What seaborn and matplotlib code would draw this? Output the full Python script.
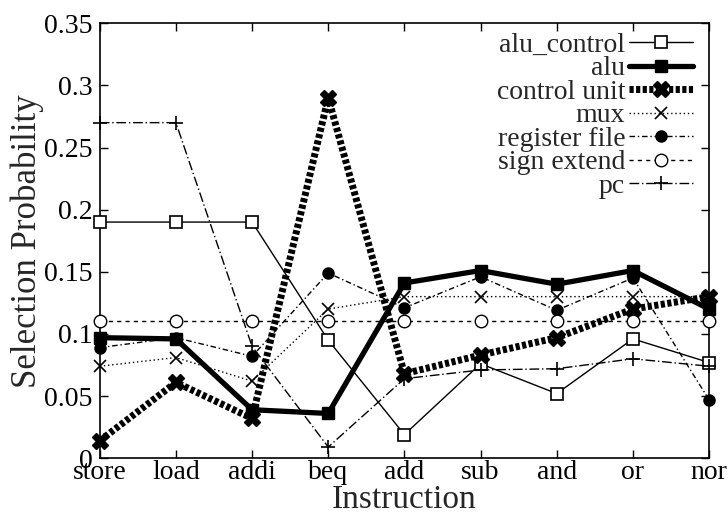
import matplotlib
matplotlib.use("Agg")
import matplotlib.pyplot as plt
import seaborn as sns
import pandas as pd
import numpy as np

instructions = ["store", "load", "addi", "beq", "add", "sub", "and", "or", "nor"]
alu_control = [0.19, 0.19, 0.19, 0.095, 0.019, 0.076, 0.052, 0.096, 0.077]
alu = [0.097, 0.096, 0.039, 0.036, 0.141, 0.151, 0.140, 0.151, 0.120]
control_unit = [0.014, 0.061, 0.032, 0.290, 0.068, 0.083, 0.097, 0.120, 0.130]
mux = [0.074, 0.081, 0.062, 0.120, 0.130, 0.130, 0.130, 0.130, 0.130]
register_file = [0.089, 0.097, 0.082, 0.149, 0.121, 0.146, 0.119, 0.145, 0.047]
sign_extend = [0.11, 0.11, 0.11, 0.11, 0.11, 0.11, 0.11, 0.11, 0.11]
pc = [0.27, 0.27, 0.090, 0.009, 0.064, 0.071, 0.072, 0.080, 0.074]

series_names = ["alu_control", "alu", "control unit", "mux", "register file", "sign extend", "pc"]
series_vals = [alu_control, alu, control_unit, mux, register_file, sign_extend, pc]

sns.set_theme(style="ticks")
plt.rcParams["font.family"] = ["Liberation Serif", "DejaVu Serif"]

styles = {
    "alu_control": dict(ls="-", lw=1.0, marker="s", ms=9, mfc="white", mec="black", mew=1.2),
    "alu": dict(ls="-", lw=3.8, marker="s", ms=9, mfc="black", mec="black", mew=1.0),
    "control unit": dict(ls=(0, (0.6, 0.35)), lw=5.0, marker="X", ms=12, mfc="black", mec="black", mew=1.0),
    "mux": dict(ls=(0, (1, 2)), lw=1.0, marker="x", ms=9, mfc="black", mec="black", mew=1.2),
    "register file": dict(ls=(0, (4, 2, 1, 2)), lw=1.0, marker="o", ms=8, mfc="black", mec="black", mew=1.0),
    "sign extend": dict(ls=(0, (3, 3)), lw=1.0, marker="o", ms=9, mfc="white", mec="black", mew=1.0),
    "pc": dict(ls=(0, (7, 2, 1, 2)), lw=1.0, marker="+", ms=10, mfc="black", mec="black", mew=1.2),
}

rows = []
for name, vals in zip(series_names, series_vals):
    for i, (ins, v) in enumerate(zip(instructions, vals)):
        rows.append({"idx": i, "instruction": ins, "series": name, "value": v})
df = pd.DataFrame(rows)

fig = plt.figure(figsize=(7.28, 5.16), dpi=100)
ax = fig.add_axes([0.137, 0.112, 0.837, 0.843])

for name in series_names:
    sub = df[df["series"] == name]
    st = styles[name]
    sns.lineplot(data=sub, x="idx", y="value", ax=ax, color="black",
                 linestyle=st["ls"], linewidth=st["lw"], marker=st["marker"],
                 markersize=st["ms"], markerfacecolor=st["mfc"],
                 markeredgecolor=st["mec"], markeredgewidth=st["mew"],
                 label=name, legend=False, zorder=3, clip_on=False)

ax.set_xlim(0, len(instructions) - 1)
ax.set_ylim(0, 0.35)
ax.set_xticks(range(len(instructions)))
ax.set_xticklabels(instructions)
ax.set_yticks([0, 0.05, 0.1, 0.15, 0.2, 0.25, 0.3, 0.35])
ax.set_yticklabels(["0", "0.05", "0.1", "0.15", "0.2", "0.25", "0.3", "0.35"])
ax.tick_params(direction="in", length=6, width=1, top=True, right=True,
               labelsize=20, colors="black", pad=5)
ax.tick_params(axis="x", pad=1)
for s in ax.spines.values():
    s.set_color("black")
    s.set_linewidth(1.2)
ax.set_xlabel("Instruction", fontsize=24, labelpad=0)
ax.set_ylabel("Selection Probability", fontsize=25, labelpad=0)
ax.set_facecolor("white")

handles, labels = ax.get_legend_handles_labels()
leg = ax.legend(handles, labels, loc="upper right", frameon=False, markerfirst=False,
                fontsize=20, handlelength=2.3, handletextpad=0.15, labelspacing=-0.07,
                borderaxespad=0, borderpad=0, bbox_to_anchor=(0.974, 0.979))
for t in leg.get_texts():
    t.set_ha("right")

fig.savefig("out.png", dpi=100, facecolor="white")
